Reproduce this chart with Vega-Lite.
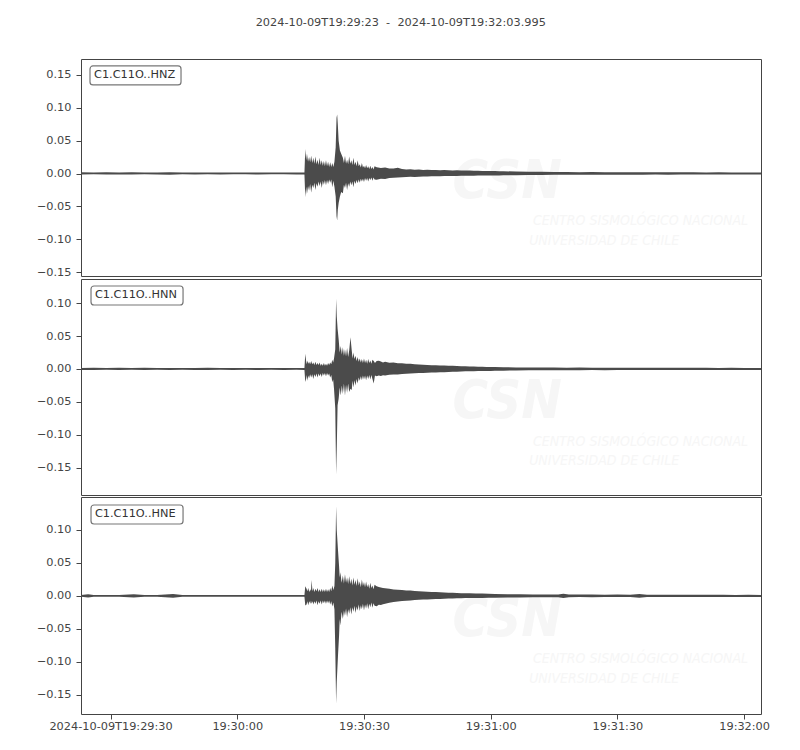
{
  "$schema": "https://vega.github.io/schema/vega-lite/v6.json",
  "description": "Three-component seismogram C1.C11O",
  "background": "white",
  "padding": {"left": 5, "top": 17, "right": 5, "bottom": 5},
  "title": {
    "text": "2024-10-09T19:29:23\u00a0\u00a0-\u00a0\u00a02024-10-09T19:32:03.995",
    "font": "DejaVu Sans", "fontSize": 11.3, "fontWeight": "normal", "color": "#444",
    "anchor": "middle", "offset": 30, "dx": 13
  },
  "config": {
    "view": {"stroke": "#444", "strokeWidth": 1},
    "axis": {
      "labelFont": "DejaVu Sans", "labelFontSize": 11.3, "labelColor": "#444",
      "tickColor": "#444", "tickSize": 5, "labelPadding": 5,
      "labelOverlap": false, "labelBound": false,
      "domain": false, "grid": false, "title": null
    },
    "axisY": {"minExtent": 75, "maxExtent": 75}
  },
  "data": {
    "values": [
      {"c":"Z","s":0,"h":0.0018,"l":-0.0015},{"c":"Z","s":3,"h":0.0015,"l":-0.0013},{"c":"Z","s":6,"h":0.0020,"l":-0.0016},
      {"c":"Z","s":9,"h":0.0016,"l":-0.0014},{"c":"Z","s":12,"h":0.0019,"l":-0.0016},{"c":"Z","s":15,"h":0.0015,"l":-0.0013},
      {"c":"Z","s":18,"h":0.0017,"l":-0.0015},{"c":"Z","s":21,"h":0.0021,"l":-0.0017},{"c":"Z","s":24,"h":0.0015,"l":-0.0013},
      {"c":"Z","s":27,"h":0.0017,"l":-0.0015},{"c":"Z","s":30,"h":0.0015,"l":-0.0013},{"c":"Z","s":33,"h":0.0016,"l":-0.0014},
      {"c":"Z","s":36,"h":0.0015,"l":-0.0013},{"c":"Z","s":39,"h":0.0015,"l":-0.0013},{"c":"Z","s":42,"h":0.0016,"l":-0.0014},
      {"c":"Z","s":45,"h":0.0015,"l":-0.0013},{"c":"Z","s":48,"h":0.0015,"l":-0.0013},{"c":"Z","s":51,"h":0.0016,"l":-0.0014},
      {"c":"Z","s":52.9,"h":0.0016,"l":-0.0014},
      {"c":"Z","s":53.1,"h":0.0375,"l":-0.036},{"c":"Z","s":53.3,"h":0.020,"l":-0.020},{"c":"Z","s":53.5,"h":0.030,"l":-0.031},
      {"c":"Z","s":53.75,"h":0.018,"l":-0.019},
      {"c":"Z","s":54.0,"h":0.025,"l":-0.026},{"c":"Z","s":54.25,"h":0.017,"l":-0.016},{"c":"Z","s":54.5,"h":0.027,"l":-0.029},
      {"c":"Z","s":54.75,"h":0.016,"l":-0.017},{"c":"Z","s":55.0,"h":0.024,"l":-0.022},{"c":"Z","s":55.25,"h":0.015,"l":-0.014},
      {"c":"Z","s":55.5,"h":0.026,"l":-0.025},{"c":"Z","s":55.75,"h":0.014,"l":-0.015},{"c":"Z","s":56.0,"h":0.021,"l":-0.020},
      {"c":"Z","s":56.25,"h":0.013,"l":-0.012},{"c":"Z","s":56.5,"h":0.024,"l":-0.019},{"c":"Z","s":56.75,"h":0.013,"l":-0.012},
      {"c":"Z","s":57.0,"h":0.020,"l":-0.022},{"c":"Z","s":57.25,"h":0.012,"l":-0.011},{"c":"Z","s":57.5,"h":0.019,"l":-0.017},
      {"c":"Z","s":57.75,"h":0.011,"l":-0.010},{"c":"Z","s":58.0,"h":0.020,"l":-0.018},{"c":"Z","s":58.25,"h":0.011,"l":-0.010},
      {"c":"Z","s":58.5,"h":0.018,"l":-0.016},{"c":"Z","s":58.75,"h":0.010,"l":-0.009},{"c":"Z","s":59.0,"h":0.017,"l":-0.014},
      {"c":"Z","s":59.25,"h":0.010,"l":-0.009},{"c":"Z","s":59.5,"h":0.016,"l":-0.021},{"c":"Z","s":59.75,"h":0.010,"l":-0.011},
      {"c":"Z","s":60.0,"h":0.018,"l":-0.020},{"c":"Z","s":60.3,"h":0.040,"l":-0.035},{"c":"Z","s":60.5,"h":0.085,"l":-0.065},
      {"c":"Z","s":60.65,"h":0.0897,"l":-0.0714},{"c":"Z","s":60.8,"h":0.075,"l":-0.055},{"c":"Z","s":61.0,"h":0.050,"l":-0.045},
      {"c":"Z","s":61.3,"h":0.035,"l":-0.035},{"c":"Z","s":61.6,"h":0.030,"l":-0.028},{"c":"Z","s":62.0,"h":0.024,"l":-0.030},
      {"c":"Z","s":62.25,"h":0.016,"l":-0.017},{"c":"Z","s":62.5,"h":0.027,"l":-0.022},{"c":"Z","s":62.75,"h":0.015,"l":-0.014},
      {"c":"Z","s":63.0,"h":0.021,"l":-0.025},{"c":"Z","s":63.25,"h":0.014,"l":-0.015},{"c":"Z","s":63.5,"h":0.026,"l":-0.020},
      {"c":"Z","s":63.75,"h":0.015,"l":-0.012},{"c":"Z","s":64.0,"h":0.020,"l":-0.018},{"c":"Z","s":64.25,"h":0.013,"l":-0.012},
      {"c":"Z","s":64.5,"h":0.024,"l":-0.021},{"c":"Z","s":64.75,"h":0.013,"l":-0.011},{"c":"Z","s":65.0,"h":0.018,"l":-0.016},
      {"c":"Z","s":65.25,"h":0.011,"l":-0.010},{"c":"Z","s":65.5,"h":0.020,"l":-0.015},{"c":"Z","s":65.75,"h":0.011,"l":-0.009},
      {"c":"Z","s":66.0,"h":0.014,"l":-0.014},{"c":"Z","s":66.25,"h":0.009,"l":-0.008},{"c":"Z","s":66.5,"h":0.016,"l":-0.012},
      {"c":"Z","s":66.75,"h":0.009,"l":-0.008},{"c":"Z","s":67.0,"h":0.012,"l":-0.013},{"c":"Z","s":67.25,"h":0.008,"l":-0.007},
      {"c":"Z","s":67.5,"h":0.013,"l":-0.011},{"c":"Z","s":67.75,"h":0.008,"l":-0.007},{"c":"Z","s":68.0,"h":0.011,"l":-0.012},
      {"c":"Z","s":68.25,"h":0.007,"l":-0.007},{"c":"Z","s":68.5,"h":0.012,"l":-0.010},{"c":"Z","s":68.75,"h":0.007,"l":-0.006},
      {"c":"Z","s":69.0,"h":0.010,"l":-0.011},{"c":"Z","s":69.25,"h":0.006,"l":-0.006},{"c":"Z","s":69.5,"h":0.011,"l":-0.009},
      {"c":"Z","s":70,"h":0.0095,"l":-0.0095},{"c":"Z","s":71,"h":0.0085,"l":-0.008},{"c":"Z","s":72,"h":0.009,"l":-0.0085},
      {"c":"Z","s":73,"h":0.0075,"l":-0.007},{"c":"Z","s":74,"h":0.0078,"l":-0.0065},{"c":"Z","s":75,"h":0.0088,"l":-0.006},
      {"c":"Z","s":76,"h":0.0068,"l":-0.0058},{"c":"Z","s":77,"h":0.0062,"l":-0.0052},{"c":"Z","s":78,"h":0.0066,"l":-0.005},
      {"c":"Z","s":79,"h":0.0058,"l":-0.0052},{"c":"Z","s":80,"h":0.006,"l":-0.0048},{"c":"Z","s":81,"h":0.0055,"l":-0.0045},
      {"c":"Z","s":82,"h":0.0057,"l":-0.0044},{"c":"Z","s":83,"h":0.0052,"l":-0.0043},{"c":"Z","s":84,"h":0.0053,"l":-0.0042},
      {"c":"Z","s":85,"h":0.005,"l":-0.004},{"c":"Z","s":86,"h":0.0054,"l":-0.0039},{"c":"Z","s":87,"h":0.0048,"l":-0.0038},
      {"c":"Z","s":88,"h":0.0047,"l":-0.0037},{"c":"Z","s":89,"h":0.0049,"l":-0.0036},{"c":"Z","s":90,"h":0.0046,"l":-0.0035},
      {"c":"Z","s":91,"h":0.0044,"l":-0.0034},{"c":"Z","s":92,"h":0.0045,"l":-0.0033},{"c":"Z","s":93,"h":0.0042,"l":-0.0033},
      {"c":"Z","s":94,"h":0.0042,"l":-0.0032},{"c":"Z","s":95,"h":0.004,"l":-0.0031},{"c":"Z","s":96,"h":0.004,"l":-0.003},
      {"c":"Z","s":97,"h":0.0038,"l":-0.003},{"c":"Z","s":98,"h":0.0037,"l":-0.0029},{"c":"Z","s":99,"h":0.0036,"l":-0.0029},
      {"c":"Z","s":100,"h":0.0035,"l":-0.0028},
      {"c":"Z","s":103,"h":0.0030,"l":-0.0025},{"c":"Z","s":106,"h":0.0028,"l":-0.0023},{"c":"Z","s":109,"h":0.0025,"l":-0.0021},
      {"c":"Z","s":112,"h":0.0024,"l":-0.0020},{"c":"Z","s":115,"h":0.0022,"l":-0.0019},{"c":"Z","s":118,"h":0.0021,"l":-0.0018},
      {"c":"Z","s":121,"h":0.0022,"l":-0.0019},{"c":"Z","s":124,"h":0.0020,"l":-0.0017},{"c":"Z","s":127,"h":0.0020,"l":-0.0018},
      {"c":"Z","s":130,"h":0.0019,"l":-0.0017},{"c":"Z","s":133,"h":0.0020,"l":-0.0017},{"c":"Z","s":136,"h":0.0018,"l":-0.0016},
      {"c":"Z","s":139,"h":0.0019,"l":-0.0017},{"c":"Z","s":142,"h":0.0018,"l":-0.0016},{"c":"Z","s":145,"h":0.0018,"l":-0.0016},
      {"c":"Z","s":148,"h":0.0017,"l":-0.0015},{"c":"Z","s":151,"h":0.0018,"l":-0.0016},{"c":"Z","s":154,"h":0.0017,"l":-0.0015},
      {"c":"Z","s":157,"h":0.0017,"l":-0.0015},{"c":"Z","s":161,"h":0.0017,"l":-0.0015},

      {"c":"N","s":0,"h":0.0015,"l":-0.0014},{"c":"N","s":3,"h":0.0017,"l":-0.0016},{"c":"N","s":6,"h":0.0015,"l":-0.0013},
      {"c":"N","s":9,"h":0.0017,"l":-0.0015},{"c":"N","s":12,"h":0.0015,"l":-0.0013},{"c":"N","s":15,"h":0.0018,"l":-0.0016},
      {"c":"N","s":18,"h":0.0015,"l":-0.0013},{"c":"N","s":21,"h":0.0016,"l":-0.0014},{"c":"N","s":24,"h":0.0015,"l":-0.0013},
      {"c":"N","s":27,"h":0.0015,"l":-0.0014},{"c":"N","s":30,"h":0.0017,"l":-0.0015},{"c":"N","s":33,"h":0.0015,"l":-0.0013},
      {"c":"N","s":36,"h":0.0015,"l":-0.0014},{"c":"N","s":39,"h":0.0015,"l":-0.0013},{"c":"N","s":42,"h":0.0016,"l":-0.0014},
      {"c":"N","s":45,"h":0.0015,"l":-0.0013},{"c":"N","s":48,"h":0.0015,"l":-0.0014},{"c":"N","s":51,"h":0.0015,"l":-0.0013},
      {"c":"N","s":52.9,"h":0.0016,"l":-0.0014},
      {"c":"N","s":53.1,"h":0.023,"l":-0.0197},{"c":"N","s":53.3,"h":0.012,"l":-0.015},{"c":"N","s":53.45,"h":0.007,"l":-0.009},
      {"c":"N","s":53.6,"h":0.013,"l":-0.018},{"c":"N","s":53.8,"h":0.008,"l":-0.010},
      {"c":"N","s":54.0,"h":0.011,"l":-0.014},{"c":"N","s":54.25,"h":0.007,"l":-0.008},{"c":"N","s":54.5,"h":0.012,"l":-0.013},
      {"c":"N","s":54.75,"h":0.007,"l":-0.008},{"c":"N","s":55.0,"h":0.010,"l":-0.015},{"c":"N","s":55.25,"h":0.006,"l":-0.008},
      {"c":"N","s":55.5,"h":0.011,"l":-0.012},{"c":"N","s":55.75,"h":0.006,"l":-0.007},{"c":"N","s":56.0,"h":0.009,"l":-0.013},
      {"c":"N","s":56.25,"h":0.006,"l":-0.007},{"c":"N","s":56.5,"h":0.010,"l":-0.011},{"c":"N","s":56.75,"h":0.005,"l":-0.007},
      {"c":"N","s":57.0,"h":0.008,"l":-0.012},{"c":"N","s":57.25,"h":0.005,"l":-0.006},{"c":"N","s":57.5,"h":0.009,"l":-0.010},
      {"c":"N","s":57.75,"h":0.005,"l":-0.006},{"c":"N","s":58.0,"h":0.008,"l":-0.011},{"c":"N","s":58.25,"h":0.005,"l":-0.006},
      {"c":"N","s":58.5,"h":0.009,"l":-0.010},{"c":"N","s":58.75,"h":0.006,"l":-0.007},{"c":"N","s":59.0,"h":0.010,"l":-0.013},
      {"c":"N","s":59.25,"h":0.007,"l":-0.009},{"c":"N","s":59.5,"h":0.014,"l":-0.020},{"c":"N","s":59.7,"h":0.010,"l":-0.016},
      {"c":"N","s":59.9,"h":0.016,"l":-0.030},{"c":"N","s":60.2,"h":0.030,"l":-0.060},{"c":"N","s":60.4,"h":0.1065,"l":-0.160},
      {"c":"N","s":60.55,"h":0.080,"l":-0.120},{"c":"N","s":60.75,"h":0.061,"l":-0.055},{"c":"N","s":61.0,"h":0.045,"l":-0.045},
      {"c":"N","s":61.25,"h":0.025,"l":-0.028},{"c":"N","s":61.5,"h":0.035,"l":-0.040},{"c":"N","s":61.75,"h":0.022,"l":-0.025},
      {"c":"N","s":62.0,"h":0.033,"l":-0.038},{"c":"N","s":62.25,"h":0.020,"l":-0.022},{"c":"N","s":62.5,"h":0.030,"l":-0.040},
      {"c":"N","s":62.75,"h":0.019,"l":-0.024},{"c":"N","s":63.0,"h":0.032,"l":-0.036},{"c":"N","s":63.25,"h":0.018,"l":-0.022},
      {"c":"N","s":63.5,"h":0.028,"l":-0.035},{"c":"N","s":63.8,"h":0.048,"l":-0.030},{"c":"N","s":64.1,"h":0.028,"l":-0.032},
      {"c":"N","s":64.3,"h":0.016,"l":-0.018},{"c":"N","s":64.5,"h":0.025,"l":-0.028},{"c":"N","s":64.75,"h":0.015,"l":-0.017},
      {"c":"N","s":65.0,"h":0.020,"l":-0.025},{"c":"N","s":65.25,"h":0.012,"l":-0.015},{"c":"N","s":65.5,"h":0.018,"l":-0.022},
      {"c":"N","s":65.75,"h":0.011,"l":-0.013},{"c":"N","s":66.0,"h":0.016,"l":-0.018},{"c":"N","s":66.25,"h":0.010,"l":-0.011},
      {"c":"N","s":66.5,"h":0.015,"l":-0.017},{"c":"N","s":66.75,"h":0.009,"l":-0.010},{"c":"N","s":67.0,"h":0.016,"l":-0.016},
      {"c":"N","s":67.25,"h":0.009,"l":-0.010},{"c":"N","s":67.5,"h":0.014,"l":-0.017},{"c":"N","s":67.75,"h":0.008,"l":-0.010},
      {"c":"N","s":68.0,"h":0.015,"l":-0.015},{"c":"N","s":68.25,"h":0.009,"l":-0.009},{"c":"N","s":68.5,"h":0.013,"l":-0.016},
      {"c":"N","s":68.75,"h":0.008,"l":-0.009},{"c":"N","s":69.0,"h":0.014,"l":-0.015},{"c":"N","s":69.3,"h":0.012,"l":-0.022},
      {"c":"N","s":69.6,"h":0.009,"l":-0.010},
      {"c":"N","s":70,"h":0.012,"l":-0.011},{"c":"N","s":70.5,"h":0.0125,"l":-0.010},{"c":"N","s":71,"h":0.0115,"l":-0.0105},
      {"c":"N","s":71.5,"h":0.010,"l":-0.0095},{"c":"N","s":72,"h":0.011,"l":-0.010},{"c":"N","s":73,"h":0.0095,"l":-0.0088},
      {"c":"N","s":74,"h":0.0098,"l":-0.0085},{"c":"N","s":75,"h":0.0088,"l":-0.0082},{"c":"N","s":76,"h":0.0088,"l":-0.0077},
      {"c":"N","s":77,"h":0.0078,"l":-0.0072},{"c":"N","s":78,"h":0.008,"l":-0.0068},{"c":"N","s":79,"h":0.0072,"l":-0.0066},
      {"c":"N","s":80,"h":0.0068,"l":-0.0062},{"c":"N","s":81,"h":0.0063,"l":-0.006},{"c":"N","s":82,"h":0.0062,"l":-0.0058},
      {"c":"N","s":83,"h":0.0058,"l":-0.0055},{"c":"N","s":84,"h":0.0057,"l":-0.0053},{"c":"N","s":85,"h":0.0054,"l":-0.005},
      {"c":"N","s":86,"h":0.0053,"l":-0.0048},{"c":"N","s":87,"h":0.0049,"l":-0.0045},{"c":"N","s":88,"h":0.0048,"l":-0.0043},
      {"c":"N","s":89,"h":0.0045,"l":-0.004},{"c":"N","s":90,"h":0.0042,"l":-0.0037},{"c":"N","s":91,"h":0.004,"l":-0.0036},
      {"c":"N","s":92,"h":0.0039,"l":-0.0034},{"c":"N","s":93,"h":0.0036,"l":-0.0033},{"c":"N","s":94,"h":0.0035,"l":-0.0032},
      {"c":"N","s":95,"h":0.0033,"l":-0.0031},{"c":"N","s":96,"h":0.0032,"l":-0.003},{"c":"N","s":97,"h":0.0031,"l":-0.0029},
      {"c":"N","s":98,"h":0.003,"l":-0.0028},{"c":"N","s":100,"h":0.0027,"l":-0.0025},
      {"c":"N","s":103,"h":0.0024,"l":-0.0022},
      {"c":"N","s":106,"h":0.0023,"l":-0.0021},{"c":"N","s":109,"h":0.0022,"l":-0.0020},{"c":"N","s":112,"h":0.0021,"l":-0.0019},
      {"c":"N","s":115,"h":0.0020,"l":-0.0018},{"c":"N","s":118,"h":0.0021,"l":-0.0019},{"c":"N","s":121,"h":0.0019,"l":-0.0017},
      {"c":"N","s":124,"h":0.0020,"l":-0.0018},{"c":"N","s":127,"h":0.0019,"l":-0.0017},{"c":"N","s":130,"h":0.0018,"l":-0.0016},
      {"c":"N","s":133,"h":0.0019,"l":-0.0017},{"c":"N","s":136,"h":0.0018,"l":-0.0016},{"c":"N","s":139,"h":0.0017,"l":-0.0016},
      {"c":"N","s":142,"h":0.0018,"l":-0.0016},{"c":"N","s":145,"h":0.0017,"l":-0.0015},{"c":"N","s":148,"h":0.0017,"l":-0.0016},
      {"c":"N","s":151,"h":0.0016,"l":-0.0015},{"c":"N","s":154,"h":0.0017,"l":-0.0015},{"c":"N","s":157,"h":0.0016,"l":-0.0015},
      {"c":"N","s":161,"h":0.0016,"l":-0.0015},

      {"c":"E","s":0,"h":0.0016,"l":-0.0014},{"c":"E","s":1.7,"h":0.0025,"l":-0.0023},{"c":"E","s":3,"h":0.0015,"l":-0.0013},
      {"c":"E","s":6,"h":0.0016,"l":-0.0014},{"c":"E","s":9,"h":0.0015,"l":-0.0013},{"c":"E","s":12.5,"h":0.0026,"l":-0.0024},
      {"c":"E","s":15,"h":0.0015,"l":-0.0013},{"c":"E","s":18,"h":0.0016,"l":-0.0014},{"c":"E","s":21.8,"h":0.0028,"l":-0.0026},
      {"c":"E","s":24,"h":0.0015,"l":-0.0013},{"c":"E","s":27,"h":0.0015,"l":-0.0013},{"c":"E","s":30,"h":0.0015,"l":-0.0014},
      {"c":"E","s":33,"h":0.0015,"l":-0.0013},{"c":"E","s":36,"h":0.0015,"l":-0.0014},{"c":"E","s":39,"h":0.0015,"l":-0.0013},
      {"c":"E","s":42,"h":0.0015,"l":-0.0014},{"c":"E","s":45,"h":0.0016,"l":-0.0014},{"c":"E","s":48,"h":0.0015,"l":-0.0013},
      {"c":"E","s":51,"h":0.0016,"l":-0.0014},{"c":"E","s":52.9,"h":0.0016,"l":-0.0014},
      {"c":"E","s":53.1,"h":0.0146,"l":-0.0146},{"c":"E","s":53.4,"h":0.011,"l":-0.013},{"c":"E","s":53.6,"h":0.007,"l":-0.008},
      {"c":"E","s":53.8,"h":0.012,"l":-0.014},{"c":"E","s":54.05,"h":0.006,"l":-0.008},
      {"c":"E","s":54.3,"h":0.010,"l":-0.012},{"c":"E","s":54.45,"h":0.007,"l":-0.007},{"c":"E","s":54.6,"h":0.024,"l":-0.012},
      {"c":"E","s":54.8,"h":0.007,"l":-0.008},{"c":"E","s":55.0,"h":0.012,"l":-0.013},{"c":"E","s":55.25,"h":0.006,"l":-0.008},
      {"c":"E","s":55.5,"h":0.011,"l":-0.012},{"c":"E","s":55.75,"h":0.007,"l":-0.007},{"c":"E","s":56.0,"h":0.012,"l":-0.014},
      {"c":"E","s":56.25,"h":0.006,"l":-0.008},{"c":"E","s":56.5,"h":0.010,"l":-0.012},{"c":"E","s":56.75,"h":0.006,"l":-0.007},
      {"c":"E","s":57.0,"h":0.011,"l":-0.013},{"c":"E","s":57.25,"h":0.006,"l":-0.007},{"c":"E","s":57.5,"h":0.010,"l":-0.011},
      {"c":"E","s":57.75,"h":0.006,"l":-0.007},{"c":"E","s":58.0,"h":0.011,"l":-0.012},{"c":"E","s":58.25,"h":0.006,"l":-0.007},
      {"c":"E","s":58.5,"h":0.010,"l":-0.011},{"c":"E","s":58.75,"h":0.006,"l":-0.007},{"c":"E","s":59.0,"h":0.012,"l":-0.013},
      {"c":"E","s":59.25,"h":0.007,"l":-0.008},{"c":"E","s":59.5,"h":0.016,"l":-0.016},{"c":"E","s":59.75,"h":0.009,"l":-0.010},
      {"c":"E","s":60.0,"h":0.015,"l":-0.020},{"c":"E","s":60.2,"h":0.050,"l":-0.080},{"c":"E","s":60.4,"h":0.136,"l":-0.1636},
      {"c":"E","s":60.55,"h":0.100,"l":-0.130},{"c":"E","s":60.85,"h":0.0687,"l":-0.090},{"c":"E","s":61.1,"h":0.045,"l":-0.060},
      {"c":"E","s":61.25,"h":0.028,"l":-0.035},{"c":"E","s":61.4,"h":0.036,"l":-0.045},{"c":"E","s":61.7,"h":0.020,"l":-0.024},
      {"c":"E","s":62.0,"h":0.031,"l":-0.035},{"c":"E","s":62.25,"h":0.019,"l":-0.022},{"c":"E","s":62.5,"h":0.033,"l":-0.030},
      {"c":"E","s":62.75,"h":0.020,"l":-0.019},{"c":"E","s":63.0,"h":0.028,"l":-0.032},{"c":"E","s":63.25,"h":0.018,"l":-0.020},
      {"c":"E","s":63.5,"h":0.030,"l":-0.027},{"c":"E","s":63.75,"h":0.018,"l":-0.017},{"c":"E","s":64.0,"h":0.026,"l":-0.028},
      {"c":"E","s":64.25,"h":0.016,"l":-0.017},{"c":"E","s":64.5,"h":0.028,"l":-0.024},{"c":"E","s":64.75,"h":0.017,"l":-0.015},
      {"c":"E","s":65.0,"h":0.024,"l":-0.026},{"c":"E","s":65.25,"h":0.015,"l":-0.016},{"c":"E","s":65.5,"h":0.027,"l":-0.022},
      {"c":"E","s":65.75,"h":0.016,"l":-0.013},{"c":"E","s":66.0,"h":0.022,"l":-0.023},{"c":"E","s":66.25,"h":0.013,"l":-0.014},
      {"c":"E","s":66.5,"h":0.025,"l":-0.020},{"c":"E","s":66.75,"h":0.015,"l":-0.012},{"c":"E","s":67.0,"h":0.021,"l":-0.022},
      {"c":"E","s":67.25,"h":0.013,"l":-0.013},{"c":"E","s":67.5,"h":0.022,"l":-0.019},{"c":"E","s":67.75,"h":0.013,"l":-0.011},
      {"c":"E","s":68.0,"h":0.018,"l":-0.020},{"c":"E","s":68.25,"h":0.011,"l":-0.012},{"c":"E","s":68.5,"h":0.020,"l":-0.017},
      {"c":"E","s":68.75,"h":0.012,"l":-0.010},{"c":"E","s":69.0,"h":0.016,"l":-0.018},{"c":"E","s":69.25,"h":0.010,"l":-0.011},
      {"c":"E","s":69.5,"h":0.017,"l":-0.015},
      {"c":"E","s":70,"h":0.0148,"l":-0.0155},{"c":"E","s":70.5,"h":0.0135,"l":-0.0135},{"c":"E","s":71,"h":0.0128,"l":-0.0138},
      {"c":"E","s":71.5,"h":0.012,"l":-0.0125},{"c":"E","s":72,"h":0.0118,"l":-0.0118},{"c":"E","s":73,"h":0.0108,"l":-0.0105},
      {"c":"E","s":74,"h":0.0098,"l":-0.0093},{"c":"E","s":75,"h":0.0094,"l":-0.0085},{"c":"E","s":76,"h":0.009,"l":-0.0078},
      {"c":"E","s":77,"h":0.0083,"l":-0.0072},{"c":"E","s":78,"h":0.0082,"l":-0.007},{"c":"E","s":79,"h":0.0076,"l":-0.0063},
      {"c":"E","s":80,"h":0.0072,"l":-0.0059},{"c":"E","s":81,"h":0.0068,"l":-0.0055},{"c":"E","s":82,"h":0.0065,"l":-0.0053},
      {"c":"E","s":83,"h":0.006,"l":-0.005},{"c":"E","s":84,"h":0.0058,"l":-0.0048},{"c":"E","s":85,"h":0.0054,"l":-0.0045},
      {"c":"E","s":86,"h":0.0052,"l":-0.0043},{"c":"E","s":87,"h":0.0049,"l":-0.004},{"c":"E","s":88,"h":0.0047,"l":-0.0038},
      {"c":"E","s":89,"h":0.0044,"l":-0.0036},{"c":"E","s":90,"h":0.0042,"l":-0.0034},{"c":"E","s":91,"h":0.004,"l":-0.0033},
      {"c":"E","s":92,"h":0.0039,"l":-0.0032},{"c":"E","s":93.5,"h":0.0036,"l":-0.003},{"c":"E","s":95,"h":0.0036,"l":-0.003},
      {"c":"E","s":96.5,"h":0.0032,"l":-0.0028},{"c":"E","s":98,"h":0.003,"l":-0.0027},{"c":"E","s":101,"h":0.0026,"l":-0.0024},
      {"c":"E","s":104,"h":0.0024,"l":-0.0022},{"c":"E","s":107,"h":0.0023,"l":-0.0021},{"c":"E","s":110,"h":0.0022,"l":-0.0020},
      {"c":"E","s":113,"h":0.0021,"l":-0.0019},{"c":"E","s":114.2,"h":0.0035,"l":-0.0033},{"c":"E","s":115.5,"h":0.0021,"l":-0.0019},
      {"c":"E","s":118,"h":0.0020,"l":-0.0018},{"c":"E","s":121,"h":0.0021,"l":-0.0019},{"c":"E","s":124,"h":0.0019,"l":-0.0017},
      {"c":"E","s":127,"h":0.0020,"l":-0.0018},{"c":"E","s":130,"h":0.0019,"l":-0.0017},{"c":"E","s":132.2,"h":0.0030,"l":-0.0028},
      {"c":"E","s":134,"h":0.0019,"l":-0.0017},{"c":"E","s":137,"h":0.0018,"l":-0.0016},{"c":"E","s":140,"h":0.0018,"l":-0.0017},
      {"c":"E","s":143,"h":0.0017,"l":-0.0016},{"c":"E","s":146,"h":0.0018,"l":-0.0016},{"c":"E","s":149,"h":0.0017,"l":-0.0015},
      {"c":"E","s":152,"h":0.0017,"l":-0.0016},{"c":"E","s":155,"h":0.0016,"l":-0.0015},{"c":"E","s":158,"h":0.0017,"l":-0.0015},
      {"c":"E","s":161,"h":0.0016,"l":-0.0015}
    ]
  },
  "spacing": 0,
  "resolve": {"scale": {"x": "independent", "y": "independent"}},
  "vconcat": [
    {
      "width": 680, "height": 217,
      "layer": [
        {"data": {"values": [{"t": "CSN"}]},
         "mark": {"type": "text", "font": "DejaVu Sans Condensed, Liberation Sans Narrow, Roboto", "fontStyle": "italic", "fontWeight": "bold", "fontSize": 54, "color": "#f6f6f6", "align": "center", "baseline": "middle"},
         "encoding": {"x": {"datum": 100.9}, "y": {"datum": -0.0126}, "text": {"field": "t"}}},
        {"data": {"values": [{"t": "CENTRO SISMOLÓGICO NACIONAL"}]},
         "mark": {"type": "text", "font": "DejaVu Sans Condensed, Liberation Sans Narrow, Roboto", "fontStyle": "italic", "fontSize": 14, "color": "#f6f6f6", "align": "left", "baseline": "middle"},
         "encoding": {"x": {"datum": 107}, "y": {"datum": -0.072}, "text": {"field": "t"}}},
        {"data": {"values": [{"t": "UNIVERSIDAD DE CHILE"}]},
         "mark": {"type": "text", "font": "DejaVu Sans Condensed, Liberation Sans Narrow, Roboto", "fontStyle": "italic", "fontSize": 14, "color": "#f6f6f6", "align": "left", "baseline": "middle"},
         "encoding": {"x": {"datum": 106.1}, "y": {"datum": -0.102}, "text": {"field": "t"}}},
        {"transform": [{"filter": "datum.c == 'Z'"}],
         "mark": {"type": "area", "color": "#4b4b4b"},
         "encoding": {
           "x": {"field": "s", "type": "quantitative", "scale": {"domain": [0, 160.995], "nice": false, "zero": false}, "axis": null},
           "y": {"field": "h", "type": "quantitative", "scale": {"domain": [-0.156, 0.1743], "nice": false, "zero": false},
                 "axis": {"tickCount": 7, "format": ".2f", "labelOverlap": false}},
           "y2": {"field": "l"}
         }},
        {"data": {"values": [{}]},
         "mark": {"type": "rect", "fill": "white", "stroke": "#777", "strokeWidth": 1.2, "cornerRadius": 3},
         "encoding": {"x": {"datum": 2.13}, "x2": {"datum": 23.68}, "y": {"datum": 0.1637}, "y2": {"datum": 0.1348}}},
        {"data": {"values": [{"t": "C1.C11O..HNZ"}]},
         "mark": {"type": "text", "font": "DejaVu Sans", "fontSize": 11.3, "color": "#333", "align": "left", "baseline": "middle"},
         "encoding": {"x": {"datum": 3.08}, "y": {"datum": 0.1492}, "text": {"field": "t"}}}
      ]
    },
    {
      "width": 680, "height": 216,
      "layer": [
        {"data": {"values": [{"t": "CSN"}]},
         "mark": {"type": "text", "font": "DejaVu Sans Condensed, Liberation Sans Narrow, Roboto", "fontStyle": "italic", "fontWeight": "bold", "fontSize": 54, "color": "#f6f6f6", "align": "center", "baseline": "middle"},
         "encoding": {"x": {"datum": 100.9}, "y": {"datum": -0.050}, "text": {"field": "t"}}},
        {"data": {"values": [{"t": "CENTRO SISMOLÓGICO NACIONAL"}]},
         "mark": {"type": "text", "font": "DejaVu Sans Condensed, Liberation Sans Narrow, Roboto", "fontStyle": "italic", "fontSize": 14, "color": "#f6f6f6", "align": "left", "baseline": "middle"},
         "encoding": {"x": {"datum": 107}, "y": {"datum": -0.1106}, "text": {"field": "t"}}},
        {"data": {"values": [{"t": "UNIVERSIDAD DE CHILE"}]},
         "mark": {"type": "text", "font": "DejaVu Sans Condensed, Liberation Sans Narrow, Roboto", "fontStyle": "italic", "fontSize": 14, "color": "#f6f6f6", "align": "left", "baseline": "middle"},
         "encoding": {"x": {"datum": 106.1}, "y": {"datum": -0.139}, "text": {"field": "t"}}},
        {"transform": [{"filter": "datum.c == 'N'"}],
         "mark": {"type": "area", "color": "#4b4b4b"},
         "encoding": {
           "x": {"field": "s", "type": "quantitative", "scale": {"domain": [0, 160.995], "nice": false, "zero": false}, "axis": null},
           "y": {"field": "h", "type": "quantitative", "scale": {"domain": [-0.191, 0.1364], "nice": false, "zero": false},
                 "axis": {"values": [-0.15, -0.1, -0.05, 0, 0.05, 0.1], "format": ".2f", "labelOverlap": false}},
           "y2": {"field": "l"}
         }},
        {"data": {"values": [{}]},
         "mark": {"type": "rect", "fill": "white", "stroke": "#777", "strokeWidth": 1.2, "cornerRadius": 3},
         "encoding": {"x": {"datum": 2.37}, "x2": {"datum": 24.16}, "y": {"datum": 0.1258}, "y2": {"datum": 0.097}}},
        {"data": {"values": [{"t": "C1.C11O..HNN"}]},
         "mark": {"type": "text", "font": "DejaVu Sans", "fontSize": 11.3, "color": "#333", "align": "left", "baseline": "middle"},
         "encoding": {"x": {"datum": 3.3}, "y": {"datum": 0.1114}, "text": {"field": "t"}}}
      ]
    },
    {
      "width": 680, "height": 217,
      "layer": [
        {"data": {"values": [{"t": "CSN"}]},
         "mark": {"type": "text", "font": "DejaVu Sans Condensed, Liberation Sans Narrow, Roboto", "fontStyle": "italic", "fontWeight": "bold", "fontSize": 54, "color": "#f6f6f6", "align": "center", "baseline": "middle"},
         "encoding": {"x": {"datum": 100.9}, "y": {"datum": -0.0364}, "text": {"field": "t"}}},
        {"data": {"values": [{"t": "CENTRO SISMOLÓGICO NACIONAL"}]},
         "mark": {"type": "text", "font": "DejaVu Sans Condensed, Liberation Sans Narrow, Roboto", "fontStyle": "italic", "fontSize": 14, "color": "#f6f6f6", "align": "left", "baseline": "middle"},
         "encoding": {"x": {"datum": 107}, "y": {"datum": -0.0955}, "text": {"field": "t"}}},
        {"data": {"values": [{"t": "UNIVERSIDAD DE CHILE"}]},
         "mark": {"type": "text", "font": "DejaVu Sans Condensed, Liberation Sans Narrow, Roboto", "fontStyle": "italic", "fontSize": 14, "color": "#f6f6f6", "align": "left", "baseline": "middle"},
         "encoding": {"x": {"datum": 106.1}, "y": {"datum": -0.1258}, "text": {"field": "t"}}},
        {"transform": [{"filter": "datum.c == 'E'"}],
         "mark": {"type": "area", "color": "#4b4b4b"},
         "encoding": {
           "x": {"field": "s", "type": "quantitative", "scale": {"domain": [0, 160.995], "nice": false, "zero": false},
                 "axis": {"values": [7, 37, 67, 97, 127, 157], "labelPadding": 1,
                          "labelExpr": "datum.value == 7 ? '2024-10-09T19:29:30' : datum.value == 37 ? '19:30:00' : datum.value == 67 ? '19:30:30' : datum.value == 97 ? '19:31:00' : datum.value == 127 ? '19:31:30' : '19:32:00'"}},
           "y": {"field": "h", "type": "quantitative", "scale": {"domain": [-0.179, 0.150], "nice": false, "zero": false},
                 "axis": {"values": [-0.15, -0.1, -0.05, 0, 0.05, 0.1], "format": ".2f", "labelOverlap": false}},
           "y2": {"field": "l"}
         }},
        {"data": {"values": [{}]},
         "mark": {"type": "rect", "fill": "white", "stroke": "#777", "strokeWidth": 1.2, "cornerRadius": 3},
         "encoding": {"x": {"datum": 2.37}, "x2": {"datum": 24.16}, "y": {"datum": 0.1379}, "y2": {"datum": 0.1091}}},
        {"data": {"values": [{"t": "C1.C11O..HNE"}]},
         "mark": {"type": "text", "font": "DejaVu Sans", "fontSize": 11.3, "color": "#333", "align": "left", "baseline": "middle"},
         "encoding": {"x": {"datum": 3.3}, "y": {"datum": 0.1235}, "text": {"field": "t"}}}
      ]
    }
  ]
}
